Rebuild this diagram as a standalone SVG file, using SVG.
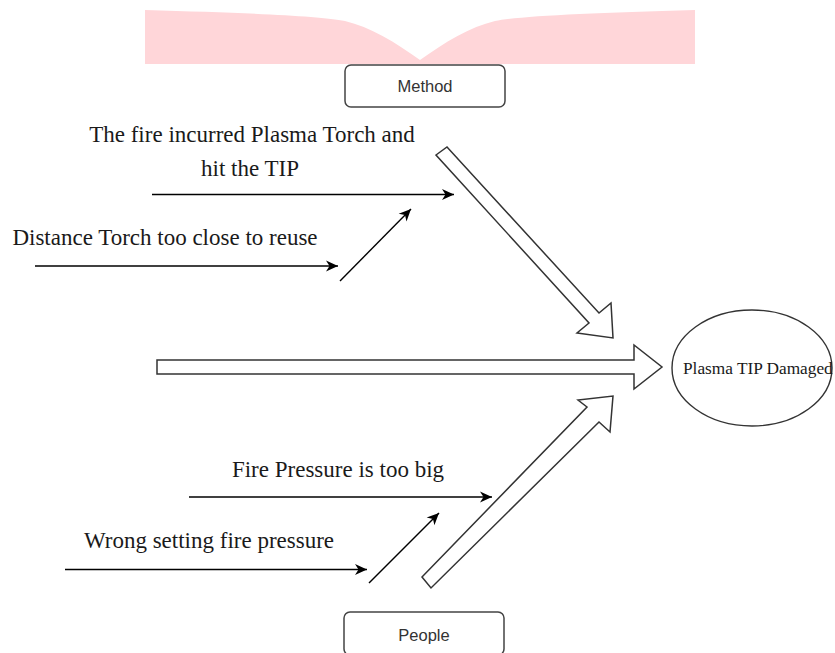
<svg xmlns="http://www.w3.org/2000/svg" width="835" height="653" viewBox="0 0 835 653">
<style>
.serif{font-family:"Liberation Serif","Times New Roman",serif;fill:#1a1a1a}
.big{font-size:23px}
.sans{font-family:"Liberation Sans",Arial,sans-serif;fill:#333;font-size:16.5px}
.box{fill:#fff;stroke:#444;stroke-width:1.5}
.block{fill:#fff;stroke:#333;stroke-width:1.5;stroke-linejoin:miter}
.conn{fill:none;stroke:#000;stroke-width:1.4}
</style>
<defs>
<marker id="ah" markerUnits="userSpaceOnUse" viewBox="-13 -6 14 12" refX="0" refY="0" markerWidth="14" markerHeight="12" orient="auto">
<path d="M0,0 L-12,-5.5 L-8.5,0 L-12,5.5 Z" fill="#000"/>
</marker>
</defs>
<rect width="835" height="653" fill="#fff"/>
<path d="M145,10 C250,13 320,16 345,21 C370,27 395,42 420,60 C445,42 470,27 495,21 C520,16 590,13 695,10 L695,64 L145,64 Z" fill="#ffd6d9"/>
<g id="method">
<rect class="box" x="345" y="65" width="160" height="42" rx="6"/>
<text class="sans" x="425" y="92" text-anchor="middle">Method</text>
</g>
<g id="people">
<rect class="box" x="344" y="612" width="160" height="43" rx="6"/>
<text class="sans" x="424" y="641" text-anchor="middle">People</text>
</g>
<g id="effect">
<ellipse cx="752" cy="368" rx="80" ry="58" fill="#fff" stroke="#333" stroke-width="1.4"/>
<text class="serif" x="683" y="374" font-size="17.3">Plasma TIP Damaged</text>
</g>
<g id="cause1">
<text class="serif big" x="252" y="142" text-anchor="middle">The fire incurred Plasma Torch and</text>
<text class="serif big" x="250" y="176" text-anchor="middle">hit the TIP</text>
</g>
<g id="cause2">
<text class="serif big" x="165" y="245" text-anchor="middle">Distance Torch too close to reuse</text>
</g>
<g id="cause3">
<text class="serif big" x="338" y="477" text-anchor="middle">Fire Pressure is too big</text>
</g>
<g id="cause4">
<text class="serif big" x="209" y="548" text-anchor="middle">Wrong setting fire pressure</text>
</g>
<g id="connectors">
<polygon class="block" points="447,147 599,313 611,303 613,338 577,333 589,323 436,155"/>
<polygon class="block" points="157,360 634,360 634,345 662,367 634,389 634,374 157,374"/>
<polygon class="block" points="422,577 587,407 578,400 613,396 610,432 599,422 431,588"/>
<line class="conn" x1="152" y1="194.5" x2="454" y2="194.5" marker-end="url(#ah)"/>
<line class="conn" x1="35" y1="266" x2="338" y2="266" marker-end="url(#ah)"/>
<line class="conn" x1="340" y1="281" x2="411" y2="209" marker-end="url(#ah)"/>
<line class="conn" x1="189" y1="497" x2="492" y2="497" marker-end="url(#ah)"/>
<line class="conn" x1="65" y1="569.5" x2="367" y2="569.5" marker-end="url(#ah)"/>
<line class="conn" x1="369" y1="583" x2="439" y2="513" marker-end="url(#ah)"/>
</g>
</svg>
